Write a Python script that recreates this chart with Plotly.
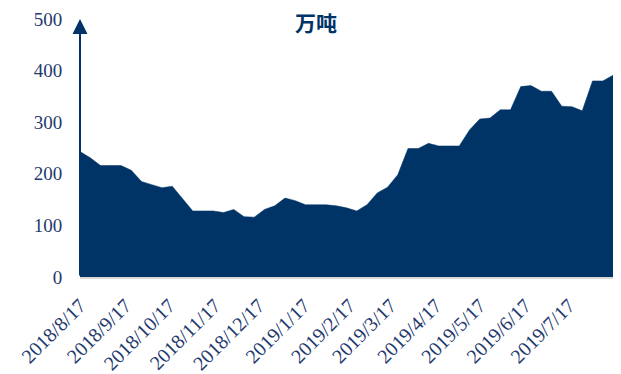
import pandas as pd
import plotly.graph_objects as go

start_date = "2018-08-17"
n_weeks = 53
dates = pd.date_range(start_date, periods=n_weeks, freq="7D")

values = [243, 231, 216, 216, 216, 207, 185, 179, 173, 176,
          152, 128, 128, 128, 125, 131, 117, 116, 131, 138,
          153, 148, 140, 140, 140, 138, 134, 128, 140, 163,
          174, 198, 249, 249, 259, 254, 254, 254, 285, 306,
          308, 324, 324, 369, 371, 360, 360, 331, 330, 322,
          380, 380, 391]

tick_dates = ["2018-08-17", "2018-09-17", "2018-10-17", "2018-11-17", "2018-12-17",
              "2019-01-17", "2019-02-17", "2019-03-17", "2019-04-17", "2019-05-17",
              "2019-06-17", "2019-07-17"]
tick_text = ["2018/8/17", "2018/9/17", "2018/10/17", "2018/11/17", "2018/12/17",
             "2019/1/17", "2019/2/17", "2019/3/17", "2019/4/17", "2019/5/17",
             "2019/6/17", "2019/7/17"]
y_ticks = [0, 100, 200, 300, 400, 500]

navy = "#003366"
label_color = "#1f3a6e"
serif = "Liberation Serif"

fig = go.Figure()
fig.add_trace(go.Scatter(
    x=dates, y=values, mode="lines", fill="tozeroy",
    line=dict(color=navy, width=0.5), fillcolor=navy,
    hoverinfo="skip", showlegend=False,
))

fig.add_annotation(
    x=dates[0], y=500, ax=dates[0], ay=0, xref="x", yref="y", axref="x", ayref="y",
    showarrow=True, arrowhead=2, arrowsize=1.5, arrowwidth=2, arrowcolor=navy, text="",
)

fig.update_layout(
    width=621, height=374,
    margin=dict(l=80, r=8, t=19, b=97),
    paper_bgcolor="white", plot_bgcolor="white",
    title=dict(text="<b>万吨</b>", x=0.443, xref="paper", xanchor="center",
               y=1 - 24 / 374, yref="container", yanchor="middle",
               font=dict(family="Noto Sans CJK SC", size=21, color=navy)),
    xaxis=dict(
        type="date", range=[dates[0], dates[-1]], automargin=False,
        tickmode="array", tickvals=tick_dates, ticktext=tick_text,
        tickangle=-45, showgrid=False, zeroline=False,
        showline=True, linecolor="#d9d9d9", linewidth=2,
        ticks="outside", ticklen=7, tickcolor="rgba(0,0,0,0)",
        tickfont=dict(family=serif, size=20, color=label_color),
    ),
    yaxis=dict(
        range=[0, 500], tickmode="array", tickvals=y_ticks, automargin=False,
        showgrid=False, zeroline=False, showline=False,
        ticks="outside", ticklen=13, tickcolor="rgba(0,0,0,0)",
        tickfont=dict(family=serif, size=19, color=label_color),
    ),
)

fig.write_html("out.html")
